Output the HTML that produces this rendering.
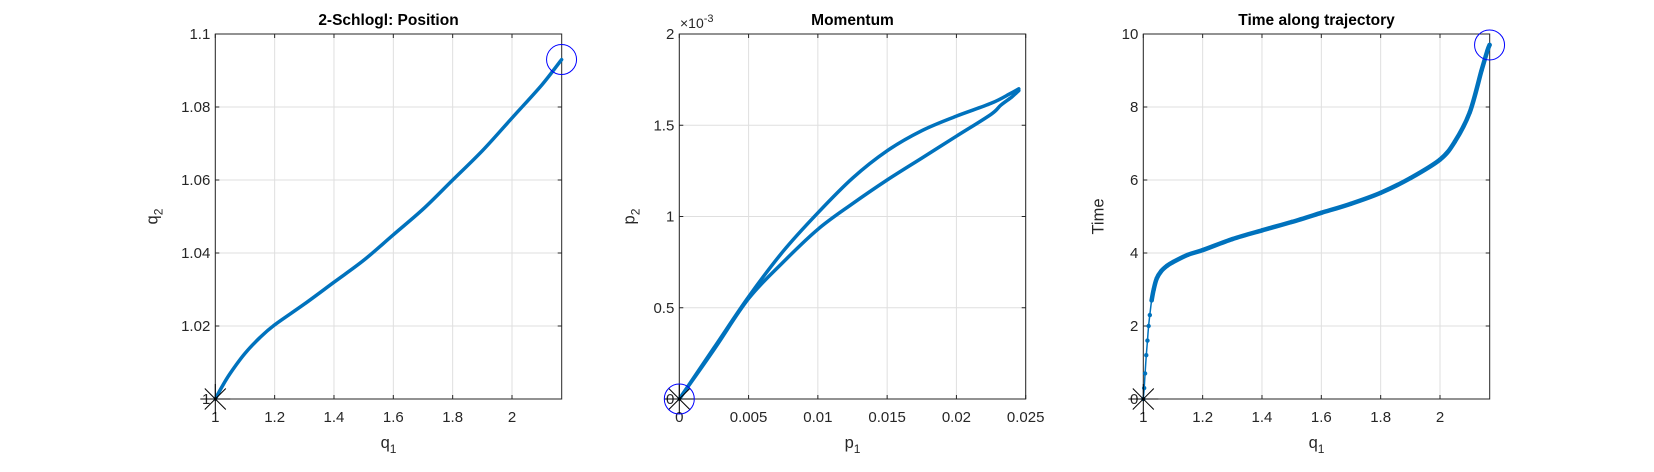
<!DOCTYPE html>
<html><head><meta charset="utf-8"><style>
body{margin:0;background:#fff;}
svg{display:block;font-family:"Liberation Sans",Arial,sans-serif;}
</style></head><body>
<svg id="fig" width="1654" height="472" viewBox="0 0 1654 472"></svg>
<script>
// ---- data ----
const posQ1 = [1,1.02,1.05,1.1,1.15,1.2,1.3,1.4,1.5,1.6,1.7,1.8,1.9,2.0,2.1,2.167];
const posQ2 = [1,1.003,1.007,1.0125,1.0168,1.0203,1.026,1.032,1.038,1.045,1.052,1.060,1.068,1.077,1.086,1.093];
const momUpperP1 = [0,0.0025,0.005,0.0075,0.01,0.0125,0.015,0.0175,0.02,0.0225,0.0238,0.0245];
const momUpperP2 = [0,0.28,0.56,0.81,1.02,1.21,1.36,1.47,1.55,1.62,1.67,1.70];
const momLowerP1 = [0.0245,0.024,0.0232,0.0225,0.02,0.0175,0.015,0.0125,0.01,0.0075,0.005,0.0025,0];
const momLowerP2 = [1.69,1.655,1.61,1.56,1.44,1.32,1.20,1.07,0.93,0.75,0.55,0.27,0];
const timeQ1 = [1,1.003,1.006,1.01,1.014,1.018,1.022,1.028,1.035,1.045,1.06,1.08,1.1,1.15,1.2,1.3,1.4,1.5,1.6,1.7,1.8,1.9,2.0,2.05,2.1,2.14,2.16,2.167];
const timeT  = [0,0.3,0.7,1.2,1.6,2.0,2.3,2.7,3.0,3.3,3.5,3.65,3.75,3.95,4.08,4.38,4.62,4.85,5.1,5.35,5.65,6.05,6.56,7.05,7.85,9.0,9.55,9.7];
const xTicks1 = [1,1.2,1.4,1.6,1.8,2], yTicks1=[1,1.02,1.04,1.06,1.08,1.1];
const xTicks2 = [0,0.005,0.01,0.015,0.02,0.025], yTicks2=[0,0.5,1,1.5,2];
const xTicks3 = [1,1.2,1.4,1.6,1.8,2], yTicks3=[0,2,4,6,8,10];

const NS="http://www.w3.org/2000/svg", svg=document.getElementById('fig');
function mk(tag,at,parent){const e=document.createElementNS(NS,tag);for(const k in at)e.setAttribute(k,at[k]);(parent||svg).appendChild(e);return e;}

function axes(o){
  const g=mk('g',{});
  
  
  const L=o.left,R=o.left+346.4,T=34,B=399;
  const sx=v=>L+(v-o.xmin)/(o.xmax-o.xmin)*(R-L);
  const sy=v=>B-(v-o.ymin)/(o.ymax-o.ymin)*(B-T);
  mk('rect',{x:L,y:T,width:R-L,height:B-T,fill:'#fff'},g);
  o.xt.forEach((v,i)=>{const x=sx(v);
    mk('line',{x1:x,y1:T,x2:x,y2:B,stroke:'#dfdfdf','stroke-width':1},g);
    mk('line',{x1:x,y1:B,x2:x,y2:B-4,stroke:'#262626'},g);mk('line',{x1:x,y1:T,x2:x,y2:T+4,stroke:'#262626'},g);
    const t=mk('text',{x:x,y:B+23,'text-anchor':'middle','font-size':15,fill:'#262626'},g);t.textContent=o.xl[i];
    
    });
  o.yt.forEach((v,i)=>{const y=sy(v);
    mk('line',{x1:L,y1:y,x2:R,y2:y,stroke:'#dfdfdf','stroke-width':1},g);
    mk('line',{x1:L,y1:y,x2:L+4,y2:y,stroke:'#262626'},g);mk('line',{x1:R,y1:y,x2:R-4,y2:y,stroke:'#262626'},g);
    const t=mk('text',{x:L-5,y:y+5,'text-anchor':'end','font-size':15,fill:'#262626'},g);t.textContent=o.yl[i];
    
    });
  mk('rect',{x:L,y:T,width:R-L,height:B-T,fill:'none',stroke:'#262626','stroke-width':1},g);
  const tt=mk('text',{x:(L+R)/2,y:25,'text-anchor':'middle','font-size':15.5,'font-weight':'bold',fill:'#000'},g);tt.textContent=o.title;
  
  
  const xl=mk('text',{x:(L+R)/2,y:448,'text-anchor':'middle','font-size':16.5,fill:'#262626'},g);
  xl.innerHTML=o.xlab[0]+'<tspan font-size="12" dy="5">'+o.xlab[1]+'</tspan>';
  
  
  const yl=mk('text',{transform:`translate(${L-o.ylOff},${(T+B)/2}) rotate(-90)`,'text-anchor':'middle','font-size':16.5,fill:'#262626'},g);
  yl.innerHTML=o.ylab[0]+(o.ylab[1]?'<tspan font-size="12" dy="5">'+o.ylab[1]+'</tspan>':'');
  
  
  return {g,sx,sy};
}
function line(ax,xs,ys,w){
  const P=xs.map((x,i)=>[ax.sx(x),ax.sy(ys[i])]);
  let d='M'+P[0][0].toFixed(1)+' '+P[0][1].toFixed(1);
  for(let i=0;i<P.length-1;i++){
    const p0=P[Math.max(0,i-1)],p1=P[i],p2=P[i+1],p3=P[Math.min(P.length-1,i+2)];
    const c1=[p1[0]+(p2[0]-p0[0])/6,p1[1]+(p2[1]-p0[1])/6];
    const c2=[p2[0]-(p3[0]-p1[0])/6,p2[1]-(p3[1]-p1[1])/6];
    d+=` C${c1[0].toFixed(1)} ${c1[1].toFixed(1)} ${c2[0].toFixed(1)} ${c2[1].toFixed(1)} ${p2[0].toFixed(1)} ${p2[1].toFixed(1)}`;
  }
  const p=mk('path',{d,fill:'none',stroke:'#0072BD','stroke-width':w,'stroke-linejoin':'round','stroke-linecap':'round'},ax.g);
  
  
}
function star(ax,x,y){const cx=ax.sx(x),cy=ax.sy(y),r=15,g=mk('g',{stroke:'#000','stroke-width':1},ax.g);
  
  
  mk('line',{x1:cx-r,y1:cy,x2:cx+r,y2:cy},g);mk('line',{x1:cx,y1:cy-r,x2:cx,y2:cy+r},g);
  const d=r*0.7;mk('line',{x1:cx-d,y1:cy-d,x2:cx+d,y2:cy+d},g);mk('line',{x1:cx-d,y1:cy+d,x2:cx+d,y2:cy-d},g);}
function circ(ax,x,y){const c=mk('circle',{cx:ax.sx(x),cy:ax.sy(y),r:15,fill:'none',stroke:'#0000ff','stroke-width':1},ax.g);
  
  }

// Plot 1
const a1=axes({name:'position-plot',left:215.3,xmin:1,xmax:2.1675,ymin:1,ymax:1.1,xt:xTicks1,xl:['1','1.2','1.4','1.6','1.8','2'],yt:yTicks1,yl:['1','1.02','1.04','1.06','1.08','1.1'],title:'2-Schlogl: Position',xlab:['q','1'],ylab:['q','2'],ylOff:58});
line(a1,posQ1,posQ2,3.5);
star(a1,posQ1[0],posQ2[0]);circ(a1,posQ1[posQ1.length-1],posQ2[posQ2.length-1]);

// Plot 2
const a2=axes({name:'momentum-plot',left:679.3,xmin:0,xmax:0.025,ymin:0,ymax:2,xt:xTicks2,xl:['0','0.005','0.01','0.015','0.02','0.025'],yt:yTicks2,yl:['0','0.5','1','1.5','2'],title:'Momentum',xlab:['p','1'],ylab:['p','2'],ylOff:45});
line(a2,momUpperP1,momUpperP2,3.5);line(a2,momLowerP1,momLowerP2,3.5);
star(a2,0,0);circ(a2,0,0);
const ex=mk('text',{x:680,y:28,'font-size':14,fill:'#262626'},a2.g);ex.innerHTML='×10<tspan font-size="11" dy="-6">-3</tspan>';



// Plot 3
const a3=axes({name:'time-plot',left:1143.3,xmin:1,xmax:2.1675,ymin:0,ymax:10,xt:xTicks3,xl:['1','1.2','1.4','1.6','1.8','2'],yt:yTicks3,yl:['0','2','4','6','8','10'],title:'Time along trajectory',xlab:['q','1'],ylab:['Time',''],ylOff:40});
line(a3,timeQ1,timeT,1.5);
timeQ1.forEach((q,i)=>{const c=mk('circle',{cx:a3.sx(q),cy:a3.sy(timeT[i]),r:2.2,fill:'#0072BD'},a3.g);
  
  });
line(a3,timeQ1.slice(7),timeT.slice(7),4.5);
star(a3,timeQ1[0],timeT[0]);circ(a3,timeQ1[timeQ1.length-1],timeT[timeT.length-1]);
</script>
</body></html>
